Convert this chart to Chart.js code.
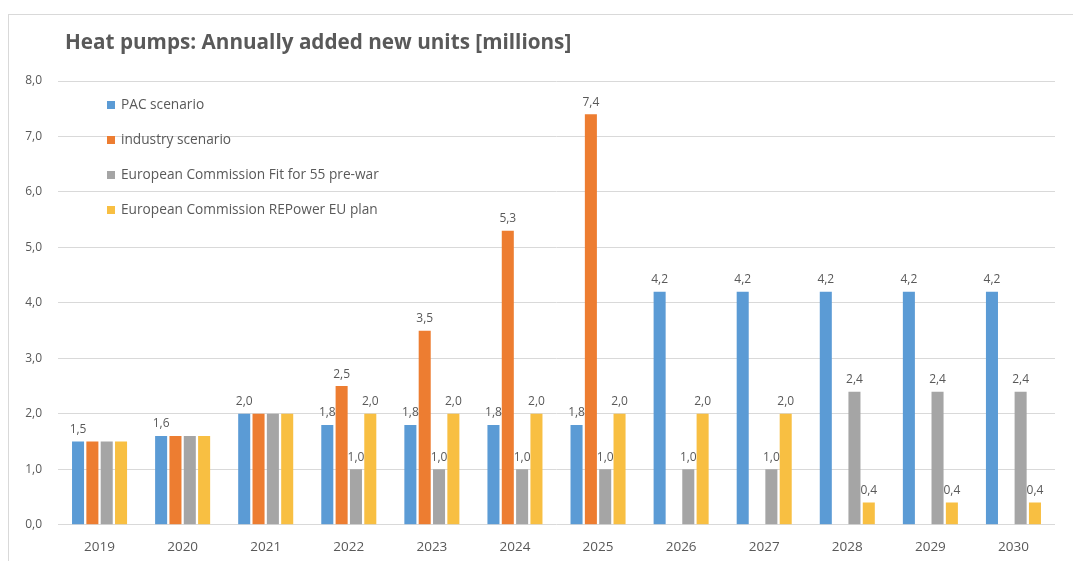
<!DOCTYPE html>
<html>
<head>
<meta charset="utf-8">
<script src="https://cdn.jsdelivr.net/npm/chart.js@4"></script>
<style>
  html, body { margin: 0; padding: 0; background: #fff; overflow: hidden; }
  #frame {
    position: absolute; left: 8px; top: 14px;
    width: 1080px; height: 558px;
    border: 1px solid #d9d9d9;
  }
</style>
</head>
<body>
<div id="frame"><canvas id="chartHeatPumps"></canvas></div>
<script>
// Anos e cenários (milhões de unidades novas por ano)
const anos = ['2019', '2020', '2021', '2022', '2023', '2024', '2025', '2026', '2027', '2028', '2029', '2030'];
const pacScenario = [1.5, 1.6, 2.0, 1.8, 1.8, 1.8, 1.8, 4.2, 4.2, 4.2, 4.2, 4.2];
const industryScenario = [1.5, 1.6, 2.0, 2.5, 3.5, 5.3, 7.4, null, null, null, null, null];
const fit55PreWar = [1.5, 1.6, 2.0, 1.0, 1.0, 1.0, 1.0, 1.0, 1.0, 2.4, 2.4, 2.4];
const repowerEU = [1.5, 1.6, 2.0, 2.0, 2.0, 2.0, 2.0, 2.0, 2.0, 0.4, 0.4, 0.4];
const nomesSeries = ['PAC scenario', 'industry scenario', 'European Commission Fit for 55 pre-war', 'European Commission REPower EU plan'];
const ticksY = [0, 1, 2, 3, 4, 5, 6, 7, 8];

const cores = ['#5b9bd5', '#ed7d31', '#a5a5a5', '#f8bf42'];
const corTexto = '#595959';
const fonte = '"Open Sans", Lato, sans-serif';

function formatar(v) {
    return v.toFixed(1).replace('.', ',');
}

// Título, legenda e rótulos de valor desenhados à mão
const extras = {
    id: 'extras',
    afterDatasetsDraw(chart) {
        const ctx = chart.ctx;
        ctx.save();

        // rótulos acima das barras (esconde repetidos na mesma categoria)
        ctx.font = '12px ' + fonte;
        ctx.fillStyle = corTexto;
        ctx.textAlign = 'center';
        ctx.textBaseline = 'bottom';
        chart.data.datasets.forEach((ds, i) => {
            const meta = chart.getDatasetMeta(i);
            meta.data.forEach((bar, j) => {
                const v = ds.data[j];
                if (v == null) return;
                for (let k = 0; k < i; k++) {
                    if (chart.data.datasets[k].data[j] === v) return;
                }
                ctx.fillText(formatar(v), bar.x, bar.y - 6);
            });
        });

        // título
        ctx.font = 'bold 20.7px ' + fonte;
        ctx.textAlign = 'left';
        ctx.textBaseline = 'middle';
        ctx.fillText('Heat pumps: Annually added new units [millions]', 56, 28);

        // legenda dentro da área do gráfico
        const area = chart.chartArea;
        ctx.font = '13.7px ' + fonte;
        chart.data.datasets.forEach((ds, i) => {
            const y = area.top + 24 + i * 35;
            ctx.fillStyle = ds.backgroundColor;
            ctx.fillRect(area.left + 49, y - 4, 8, 8);
            ctx.fillStyle = corTexto;
            ctx.fillText(ds.label, area.left + 63, y);
        });

        ctx.restore();
    }
};

const series = [pacScenario, industryScenario, fit55PreWar, repowerEU];

new Chart(document.getElementById('chartHeatPumps'), {
    type: 'bar',
    data: {
        labels: anos,
        datasets: series.map((dados, i) => ({
            label: nomesSeries[i],
            data: dados,
            backgroundColor: cores[i],
            categoryPercentage: 0.69,
            barPercentage: 0.84
        }))
    },
    options: {
        responsive: true,
        maintainAspectRatio: false,
        animation: false,
        layout: {
            padding: { top: 66, right: 34, bottom: 4, left: 0 }
        },
        scales: {
            x: {
                grid: { display: false, drawTicks: false },
                border: { display: false },
                ticks: { color: corTexto, padding: 14, font: { family: fonte, size: 13.5 } }
            },
            y: {
                min: 0,
                max: 8,
                afterBuildTicks(scale) {
                    scale.ticks = ticksY.map(v => ({ value: v }));
                },
                afterFit(scale) {
                    scale.width = 49;
                },
                grid: { color: '#d9d9d9', drawTicks: false },
                border: { display: false },
                ticks: {
                    color: corTexto,
                    padding: 16,
                    font: { family: fonte, size: 12 },
                    callback: v => formatar(v)
                }
            }
        },
        plugins: {
            legend: { display: false },
            title: { display: false },
            tooltip: { enabled: false }
        }
    },
    plugins: [extras]
});
</script>
</body>
</html>
